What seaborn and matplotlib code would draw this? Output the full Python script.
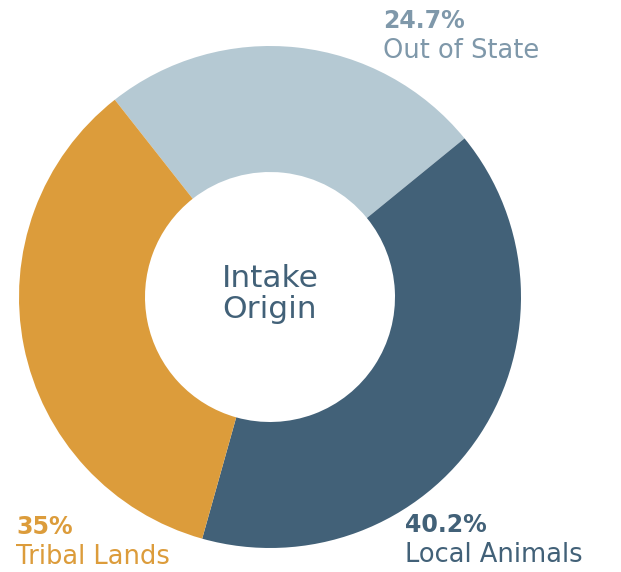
import matplotlib
matplotlib.use("Agg")
import matplotlib.pyplot as plt
import seaborn as sns

# dados do grafico
categories = ["Out of State", "Local Animals", "Tribal Lands"]
values = [24.7, 40.2, 35.0]
pct_labels = ["24.7%", "40.2%", "35%"]
slice_colors = ["#b5c9d3", "#426178", "#dc9c3b"]
text_colors = ["#7f98aa", "#426178", "#dc9c3b"]
center_title = "Intake\nOrigin"

sns.set_theme(style="white")
plt.rcParams["font.family"] = ["DejaVu Sans"]

fig = plt.figure(figsize=(6.21, 5.72), dpi=100)
ax = fig.add_axes([0, 0, 1, 1])

# donut: centro e raio em pixels
ax.pie(values, colors=slice_colors, startangle=128.2, counterclock=False,
       center=(270, 275), radius=251,
       wedgeprops=dict(width=126, linewidth=0))
ax.set_xlim(0, 621)
ax.set_ylim(0, 572)
ax.set_aspect("equal")
ax.axis("off")

ax.text(270, 278, center_title, ha="center", va="center", fontsize=22.5,
        color="#426178", linespacing=1.1)

# rotulos (posicao do texto, em pixels)
label_pos = {"Out of State": (383, 551), "Local Animals": (405, 47), "Tribal Lands": (16, 45)}
for cat, pct, col in zip(categories, pct_labels, text_colors):
    x, y = label_pos[cat]
    ax.text(x, y, pct, ha="left", va="center", fontsize=17, fontweight="bold", color=col)
    ax.text(x, y - 30, cat, ha="left", va="center", fontsize=18.5, color=col)

fig.savefig("out.png", dpi=100)
plt.close(fig)
